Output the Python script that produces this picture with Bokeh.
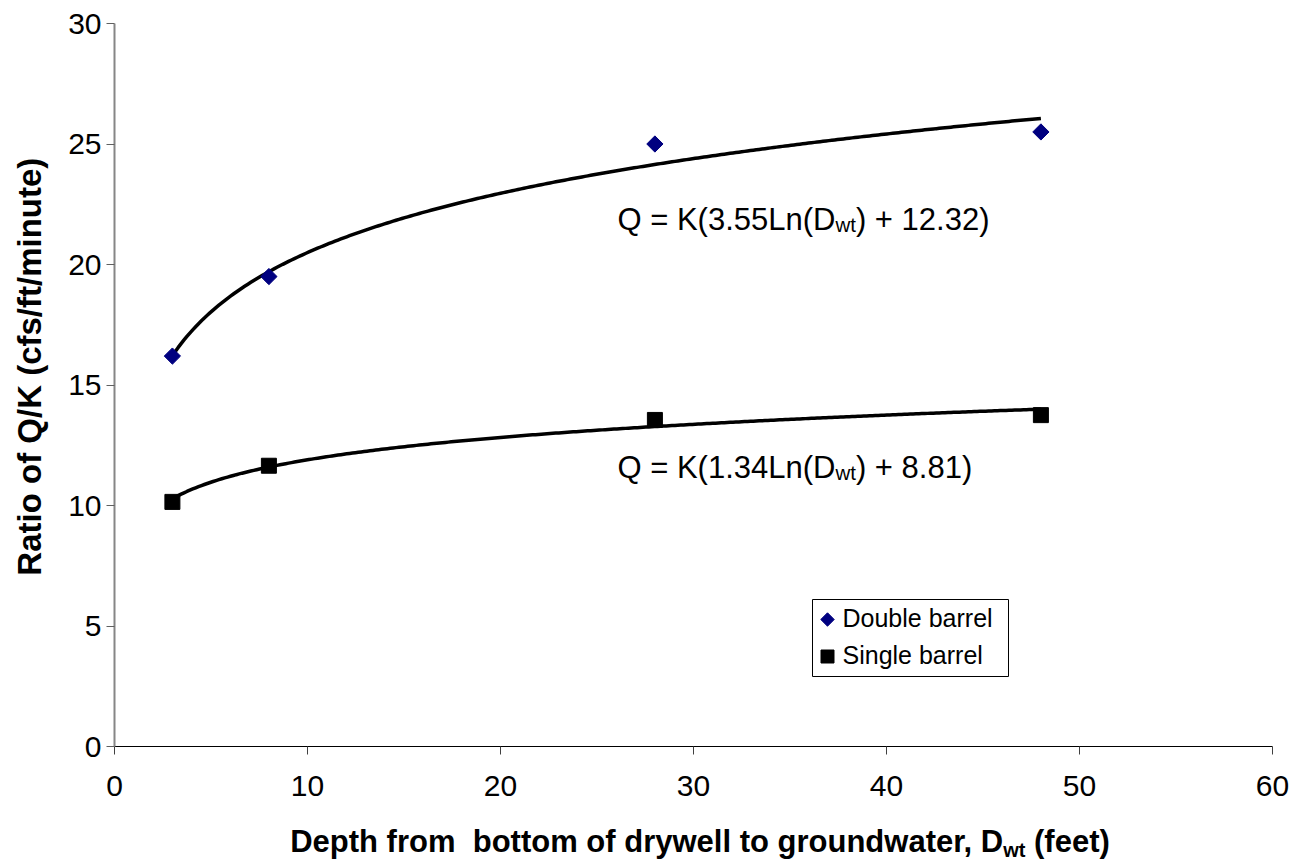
import numpy as np
from bokeh.plotting import figure
from bokeh.layouts import column
from bokeh.models import Range1d, FixedTicker, ColumnDataSource, Label, BoxAnnotation, Div
from bokeh.embed import file_html
from bokeh.resources import INLINE

# ---- data ----
depth = [3, 8, 28, 48]
double_barrel = [16.2, 19.5, 25.0, 25.5]
single_barrel = [10.15, 11.65, 13.55, 13.75]
x_ticks = [0, 10, 20, 30, 40, 50, 60]
y_ticks = [0, 5, 10, 15, 20, 25, 30]
# logarithmic trendline coefficients printed on the chart: Q/K = a*ln(D) + b
double_fit = (3.55, 12.32)
single_fit = (1.34, 8.81)
double_eq = [("Q = K(3.55Ln(D", False), ("wt", True), (") + 12.32)", False)]
single_eq = [("Q = K(1.34Ln(D", False), ("wt", True), (") + 8.81)", False)]
x_title_main = "Depth from  bottom of drywell to groundwater, D"
x_title_sub = "wt"
x_title_end = " (feet)"
y_title = "Ratio of Q/K (cfs/ft/minute)"
legend_labels = ["Double barrel", "Single barrel"]

FONT = "Liberation Sans"
TICK_FS = 30
EQ_FS = 31
TITLE_FS = 31
YTITLE_FS = 33
LEG_FS = 25
SUB = 0.66
SUB_DROP = 0.16
LABEL_LIFT = 10  # px correction so label baselines land where intended

# layout (pixels)
W = 1292
FIG_H = 815
DIV_H = 45
LEFT, TOP = 114, 23
FRAME_W, FRAME_H = 1158, 723
XMIN, XMAX, YMIN, YMAX = 0, 60, 0, 30


def px2x(px):
    return XMIN + (px - LEFT) * (XMAX - XMIN) / FRAME_W


def py2y(py):
    return YMIN + (TOP + FRAME_H - py) * (YMAX - YMIN) / FRAME_H


# Arial / Liberation Sans advance widths (1/1000 em)
AR = {' ': 278, '(': 333, ')': 333, '+': 584, '.': 278, ',': 278, '=': 584, 'D': 722,
      'K': 667, 'L': 556, 'Q': 778, 'n': 556, 'w': 722, 't': 278}
for d in '0123456789':
    AR[d] = 556


def tw(s, size):
    return sum(AR.get(c, 556) for c in s) * size / 1000.0


p = figure(width=W, height=FIG_H, output_backend="svg", toolbar_location=None,
           x_range=Range1d(XMIN, XMAX), y_range=Range1d(YMIN, YMAX),
           min_border_left=LEFT, min_border_right=W - LEFT - FRAME_W,
           min_border_top=TOP, min_border_bottom=FIG_H - TOP - FRAME_H)
p.outline_line_color = None
p.grid.visible = False
p.background_fill_color = "white"
p.border_fill_color = "white"

for ax, ticks in ((p.xaxis[0], x_ticks), (p.yaxis[0], y_ticks)):
    ax.ticker = FixedTicker(ticks=ticks)
    ax.minor_tick_line_color = None
    ax.major_tick_in = 0
    ax.major_tick_out = 8
    ax.major_label_text_font = FONT
    ax.major_label_text_font_size = f"{TICK_FS}px"
    ax.major_label_text_color = "black"

p.xaxis.axis_line_color = "black"
p.xaxis.major_tick_line_color = "#404040"
p.xaxis.major_label_standoff = 21
p.yaxis.axis_line_color = "#868686"
p.yaxis.axis_line_width = 2
p.yaxis.major_tick_line_color = "#606060"
p.yaxis.major_label_standoff = 5
p.yaxis.axis_label = "\u00a0" * 4 + y_title
p.yaxis.axis_label_text_font = FONT
p.yaxis.axis_label_text_font_size = f"{YTITLE_FS}px"
p.yaxis.axis_label_text_font_style = "bold"
p.yaxis.axis_label_text_color = "black"
p.yaxis.axis_label_standoff = 17

# trendlines from the printed coefficients
fit_x = np.linspace(min(depth), max(depth), 300)
p.line(fit_x, double_fit[0] * np.log(fit_x) + double_fit[1], line_color="black", line_width=3.5)
p.line(fit_x, single_fit[0] * np.log(fit_x) + single_fit[1], line_color="black", line_width=3.5)

src = ColumnDataSource(dict(x=depth, d=double_barrel, s=single_barrel))
p.scatter("x", "d", source=src, marker="square", size=11.5, angle=np.pi / 4,
          fill_color="#000080", line_color="#000080")
p.scatter("x", "s", source=src, marker="square", size=15,
          fill_color="black", line_color="black")


def rich(parts, x, y, size):
    off = 0.0
    for t, s in parts:
        fs = size * SUB if s else size
        lead = len(t) - len(t.lstrip(' '))
        p.add_layout(Label(x=x, y=y, x_offset=off + tw(' ' * lead, fs),
                           y_offset=LABEL_LIFT - (SUB_DROP * size if s else 0),
                           text=t.strip(' '), text_font=FONT, text_font_size=f"{fs:.1f}px",
                           text_color="black", text_align="left", text_baseline="alphabetic"))
        off += tw(t, fs)


rich(double_eq, px2x(617), py2y(229), EQ_FS)
rich(single_eq, px2x(617), py2y(477), EQ_FS)

# legend (box, keys, labels)
p.add_layout(BoxAnnotation(left=px2x(812), right=px2x(1008), top=py2y(599), bottom=py2y(676),
                           fill_color="white", fill_alpha=1.0, line_color="black",
                           line_width=1, line_alpha=1.0))
p.scatter(x=[px2x(827)], y=[py2y(619)], marker="square", size=9.5, angle=np.pi / 4,
          fill_color="#000080", line_color="#000080", level="overlay")
p.scatter(x=[px2x(827)], y=[py2y(656)], marker="square", size=13,
          fill_color="black", line_color="black", level="overlay")
for lab, base in zip(legend_labels, (627, 664)):
    p.add_layout(Label(x=px2x(842), y=py2y(base), y_offset=LABEL_LIFT, text=lab, text_font=FONT,
                       text_font_size=f"{LEG_FS}px", text_color="black",
                       text_align="left", text_baseline="alphabetic"))

title_html = (
    f'<div style="box-sizing:border-box;width:{W}px;padding-left:108px;padding-top:9px;'
    f'text-align:center;white-space:pre;font-family:\'{FONT}\',Arial,sans-serif;font-weight:bold;'
    f'font-size:{TITLE_FS}px;color:black;line-height:1.15">'
    f'{x_title_main}<sub style="font-size:{TITLE_FS * SUB:.0f}px;vertical-align:-5px">{x_title_sub}</sub>'
    f'{x_title_end}</div>'
)
div = Div(text=title_html, width=W, height=DIV_H, margin=0)

layout = column(p, div, spacing=0)
open("out.html", "w").write(file_html(layout, INLINE))
